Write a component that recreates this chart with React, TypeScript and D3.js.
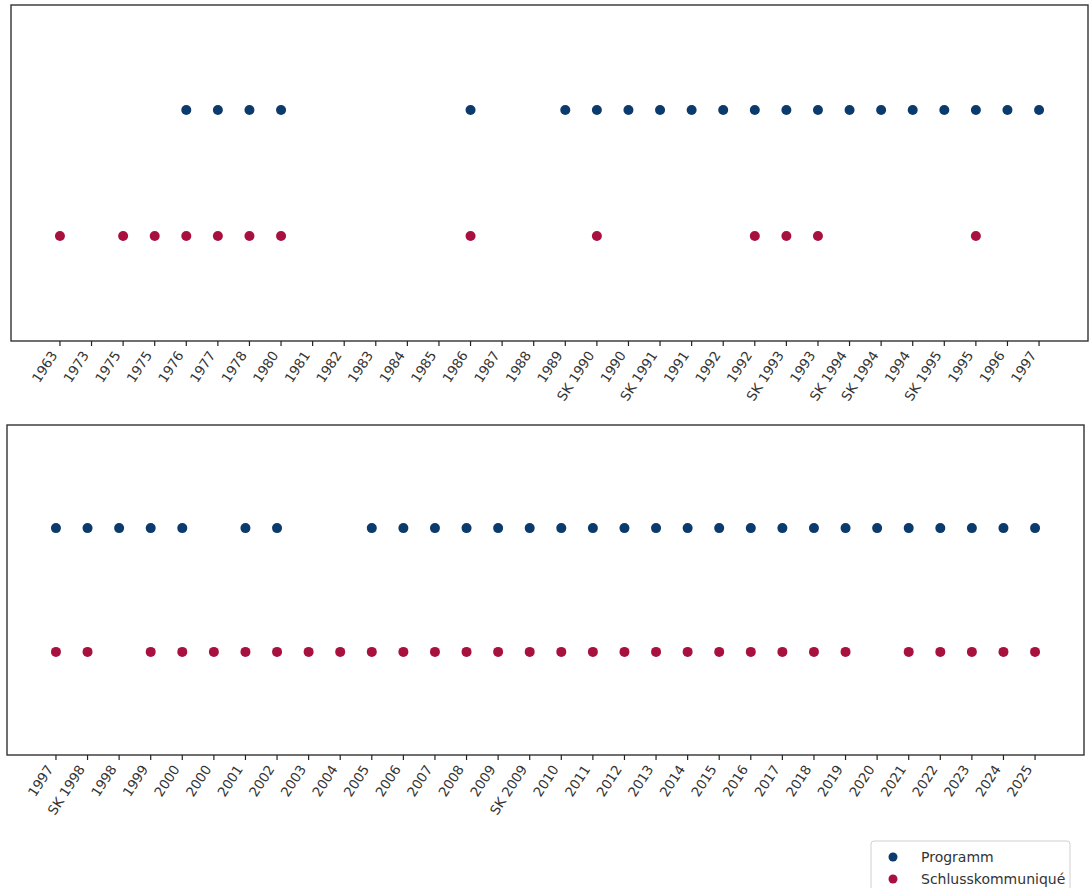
import React from "react";
import * as d3 from "d3";

const topLabels = ["1963","1973","1975","1975","1976","1977","1978","1980","1981","1982","1983","1984","1985","1986","1987","1988","1989","SK 1990","1990","SK 1991","1991","1992","1992","SK 1993","1993","SK 1994","SK 1994","1994","SK 1995","1995","1996","1997"];
const topProgramm = [0,0,0,0,1,1,1,1,0,0,0,0,0,1,0,0,1,1,1,1,1,1,1,1,1,1,1,1,1,1,1,1];
const topSchluss  = [1,0,1,1,1,1,1,1,0,0,0,0,0,1,0,0,0,1,0,0,0,0,1,1,1,0,0,0,0,1,0,0];

const bottomLabels = ["1997","SK 1998","1998","1999","2000","2000","2001","2002","2003","2004","2005","2006","2007","2008","2009","SK 2009","2010","2011","2012","2013","2014","2015","2016","2017","2018","2019","2020","2021","2022","2023","2024","2025"];
const bottomProgramm = [1,1,1,1,1,0,1,1,0,0,1,1,1,1,1,1,1,1,1,1,1,1,1,1,1,1,1,1,1,1,1,1];
const bottomSchluss  = [1,1,0,1,1,1,1,1,1,1,1,1,1,1,1,1,1,1,1,1,1,1,1,1,1,1,0,1,1,1,1,1];

const seriesNames = ["Programm", "Schlusskommuniqué"];
const colors = ["#0b3b6c", "#a8113f"];

const FONT = "'DejaVu Sans', sans-serif";

function Panel({ labels, programm, schluss, left, right, top, bottom }: any) {
  const n = labels.length;
  const pad = 1.55;
  const x = d3.scaleLinear().domain([-pad, n - 1 + pad]).range([left, right]);
  const y = d3.scaleLinear().domain([-0.8333, 1.8333]).range([bottom, top]);
  const series = [
    { vals: programm, level: 1, color: colors[0] },
    { vals: schluss, level: 0, color: colors[1] },
  ];
  return (
    <g>
      {series.map((s, si) =>
        s.vals.map((v: number, i: number) =>
          v ? <circle key={`${si}-${i}`} cx={x(i)} cy={y(s.level)} r={5} fill={s.color} /> : null
        )
      )}
      <rect x={left} y={top} width={right - left} height={bottom - top} fill="none" stroke="#333" strokeWidth={1.4} />
      {labels.map((lab: string, i: number) => (
        <g key={i}>
          <line x1={x(i)} x2={x(i)} y1={bottom} y2={bottom + 5} stroke="#222" strokeWidth={1.2} />
          <text
            transform={`translate(${x(i) - 2},${bottom + 14}) rotate(-57)`}
            textAnchor="end"
            fontFamily={FONT}
            fontSize={13.5}
            fill="#333"
          >
            {lab}
          </text>
        </g>
      ))}
    </g>
  );
}

export default function App() {
  return (
    <svg width={1089} height={888} style={{ position: "absolute", left: 0, top: 0, background: "#fff" }}>
      <rect x={0} y={0} width={1089} height={888} fill="#fff" />
      <Panel labels={topLabels} programm={topProgramm} schluss={topSchluss} left={11} right={1088} top={5} bottom={341} />
      <Panel labels={bottomLabels} programm={bottomProgramm} schluss={bottomSchluss} left={7} right={1084} top={425} bottom={755} />
      <g>
        <rect x={871} y={841} width={199} height={60} rx={3} fill="#fff" stroke="#d0d0d0" strokeWidth={1} />
        {seriesNames.map((nm, i) => (
          <g key={nm}>
            <circle cx={893} cy={857 + i * 22} r={4.5} fill={colors[i]} />
            <text x={921} y={857 + i * 22 + 5} fontFamily={FONT} fontSize={14} fill="#333">{nm}</text>
          </g>
        ))}
      </g>
    </svg>
  );
}
